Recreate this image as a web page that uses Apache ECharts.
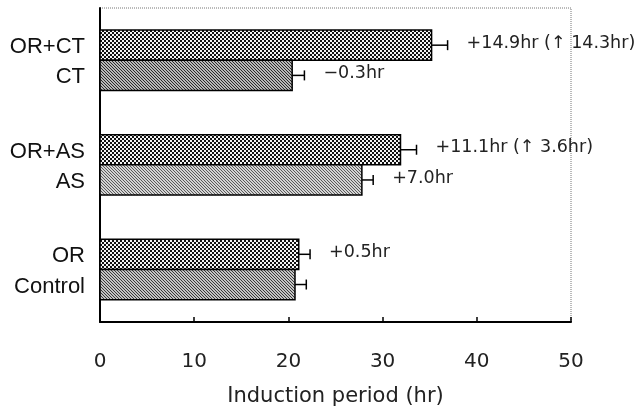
<!DOCTYPE html>
<html lang="en">
<head>
  <meta charset="UTF-8">
  <title>Induction period</title>
  <script src="https://cdn.jsdelivr.net/npm/echarts@6/dist/echarts.min.js"></script>
</head>
<body style="margin:0;background:#fff">
  <div id="main" style="width:641px;height:412px"></div>
  <script>
    // 数据
    var groups = ['OR+CT', 'CT', 'OR+AS', 'AS', 'OR', 'Control']
    var periods = [35.2, 20.4, 31.9, 27.8, 21.1, 20.7]
    var errors = [1.7, 1.3, 1.7, 1.2, 1.2, 1.2]
    var notes = ['+14.9hr (\u2191 14.3hr)', '\u22120.3hr', '+11.1hr (\u2191 3.6hr)', '+7.0hr', '+0.5hr', '']
    var xTicks = [0, 10, 20, 30, 40, 50]

    // 纹理
    function checker() {
      var c = document.createElement('canvas')
      c.width = 4; c.height = 4
      var g = c.getContext('2d')
      g.fillStyle = '#f4f4f4'; g.fillRect(0, 0, 4, 4)
      g.fillStyle = '#111'; g.fillRect(0, 0, 2, 2); g.fillRect(2, 2, 2, 2)
      return c
    }
    function hatch(dark, light) {
      var c = document.createElement('canvas')
      c.width = 3; c.height = 3
      var g = c.getContext('2d')
      g.fillStyle = light; g.fillRect(0, 0, 3, 3)
      g.fillStyle = dark
      for (var i = 0; i < 3; i++) g.fillRect(i, i, 1, 1)
      return c
    }
    var pats = {
      check: checker(),
      ct: hatch('#2a2a2a', '#b8b8b8'),
      as: hatch('#5a5a5a', '#d4d4d4'),
      ctl: hatch('#3a3a3a', '#c4c4c4')
    }
    var fills = ['check', 'ct', 'check', 'as', 'check', 'ctl']

    // 行位置: 每组两根柱子
    var rows = groups.map(function (n, i) {
      return 1.23 + Math.floor(i / 2) * 3.46 + (i % 2)
    })
    var data = groups.map(function (n, i) {
      return [periods[i], rows[i], errors[i], i]
    })

    var chart = echarts.init(document.getElementById('main'))
    var option = {
      animation: false,
      grid: {
        left: 100, right: 70, top: 8, bottom: 87,
        show: true, borderColor: '#777', borderWidth: 1, borderType: 'dotted'
      },
      xAxis: {
        type: 'value', min: 0, max: 50, interval: 10, position: 'bottom',
        axisLine: { show: true, onZero: false, lineStyle: { color: '#000', width: 2 } },
        axisTick: { show: true, inside: true, length: 5, lineStyle: { color: '#000', width: 1.5 } },
        splitLine: { show: false },
        axisLabel: { margin: 30, fontSize: 20, color: '#222', fontFamily: 'DejaVu Sans',
          formatter: function (v) { return xTicks.indexOf(v) >= 0 ? String(v) : '' } },
        name: 'Induction period (hr)', nameLocation: 'middle', nameGap: 64,
        nameTextStyle: { fontSize: 21, color: '#222', fontFamily: 'DejaVu Sans' }
      },
      yAxis: {
        type: 'value', min: 0, max: 10.39, inverse: true,
        axisLine: { show: true, onZero: false, lineStyle: { color: '#000', width: 2 } },
        axisTick: { show: false }, axisLabel: { show: false }, splitLine: { show: false }
      },
      series: [{
        type: 'custom',
        clip: false,
        data: data,
        renderItem: function (params, api) {
          var v = api.value(0), pos = api.value(1), err = api.value(2), idx = api.value(3)
          var h = api.size([0, 1])[1]
          var end = api.coord([v, pos])
          var start = api.coord([0, pos])
          var eEnd = api.coord([v + err, pos])
          var kids = [
            {
              type: 'rect',
              shape: { x: start[0], y: end[1] - h / 2, width: end[0] - start[0], height: h },
              style: { fill: { image: pats[fills[idx]], repeat: 'repeat' }, stroke: '#000', lineWidth: 1.5 }
            },
            {
              type: 'line',
              shape: { x1: end[0], y1: end[1], x2: eEnd[0], y2: eEnd[1] },
              style: { stroke: '#000', lineWidth: 1.5 }
            },
            {
              type: 'line',
              shape: { x1: eEnd[0], y1: eEnd[1] - 5, x2: eEnd[0], y2: eEnd[1] + 5 },
              style: { stroke: '#000', lineWidth: 1.5 }
            },
            {
              type: 'text',
              style: { text: groups[idx], x: start[0] - 15, y: end[1] + 2, align: 'right', verticalAlign: 'middle',
                font: '22px "Liberation Sans", Arial, sans-serif', fill: '#111' }
            }
          ]
          if (notes[idx]) {
            kids.push({
              type: 'text',
              style: { text: notes[idx], x: eEnd[0] + 19, y: end[1] - 2, align: 'left', verticalAlign: 'middle',
                font: '17.5px "DejaVu Sans", sans-serif', fill: '#222' }
            })
          }
          return { type: 'group', children: kids }
        }
      }]
    }
    chart.setOption(option)
  </script>
</body>
</html>
